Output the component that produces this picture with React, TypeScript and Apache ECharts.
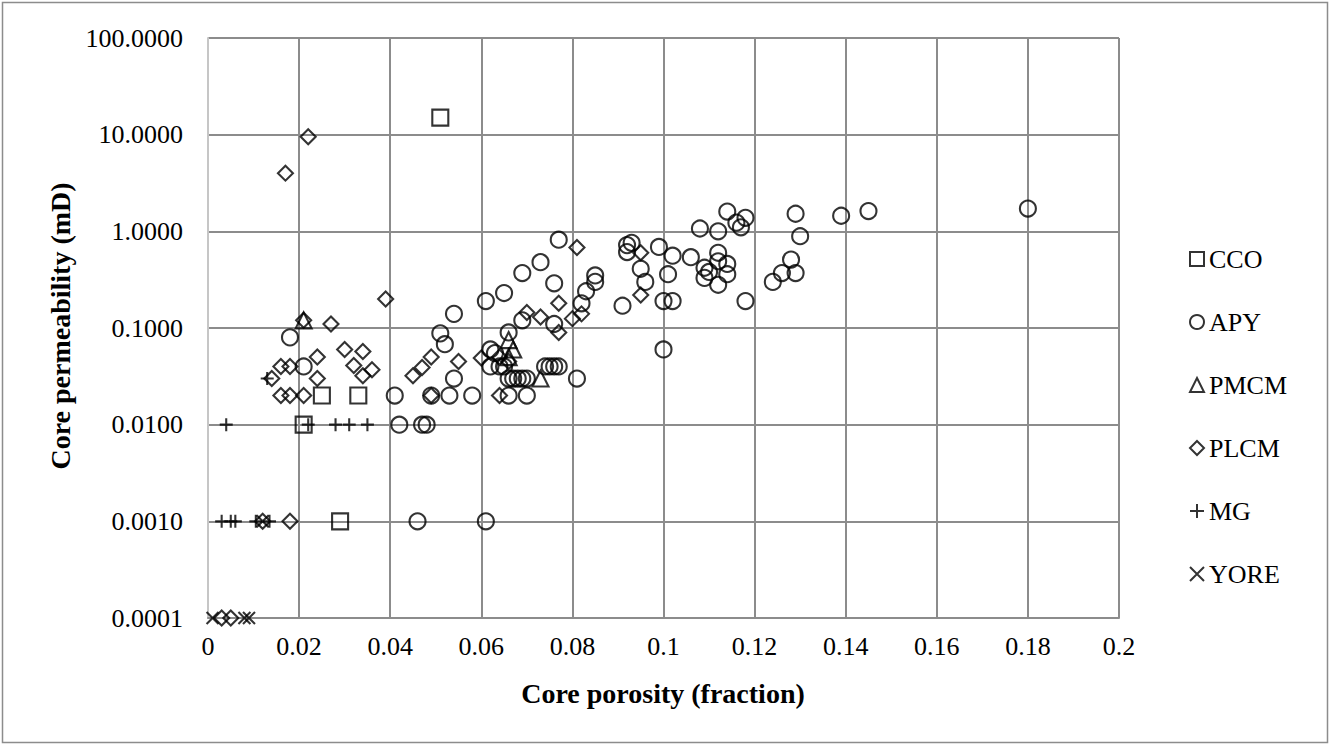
import React, { useEffect, useRef } from 'react';
import * as echarts from 'echarts';

const seriesNames = ['CCO', 'APY', 'PMCM', 'PLCM', 'MG', 'YORE'];

const ccoPorosity = [0.051, 0.025, 0.033, 0.021, 0.029];
const ccoPerm = [15, 0.02, 0.02, 0.01, 0.001];

const apyPorosity = [
  0.018, 0.021, 0.041, 0.042, 0.047, 0.048, 0.046, 0.061, 0.049, 0.053,
  0.058, 0.066, 0.070, 0.054, 0.052, 0.051, 0.054, 0.061, 0.065, 0.069,
  0.073, 0.077, 0.076, 0.069, 0.076, 0.066, 0.062, 0.063, 0.062, 0.064,
  0.065, 0.066, 0.067, 0.068, 0.069, 0.070, 0.074, 0.075, 0.076, 0.077,
  0.081, 0.082, 0.083, 0.085, 0.085, 0.091, 0.092, 0.092, 0.093, 0.095,
  0.096, 0.099, 0.100, 0.102, 0.101, 0.102, 0.100, 0.106, 0.108, 0.109,
  0.110, 0.109, 0.112, 0.112, 0.112, 0.112, 0.114, 0.114, 0.114, 0.116,
  0.117, 0.118, 0.118, 0.124, 0.126, 0.128, 0.129, 0.129, 0.130, 0.139,
  0.145, 0.180,
];
const apyPerm = [
  0.08, 0.04, 0.02, 0.01, 0.01, 0.01, 0.001, 0.001, 0.02, 0.02,
  0.02, 0.02, 0.02, 0.03, 0.068, 0.088, 0.14, 0.19, 0.23, 0.37,
  0.48, 0.82, 0.29, 0.12, 0.11, 0.09, 0.06, 0.055, 0.04, 0.04,
  0.04, 0.03, 0.03, 0.03, 0.03, 0.03, 0.04, 0.04, 0.04, 0.04,
  0.03, 0.18, 0.24, 0.30, 0.35, 0.17, 0.61, 0.72, 0.76, 0.41,
  0.30, 0.69, 0.19, 0.19, 0.36, 0.56, 0.06, 0.54, 1.07, 0.42,
  0.38, 0.33, 1.0, 0.60, 0.49, 0.28, 0.46, 0.36, 1.6, 1.23,
  1.1, 1.38, 0.19, 0.30, 0.37, 0.51, 0.37, 1.52, 0.89, 1.45,
  1.62, 1.72,
];

const pmcmPorosity = [0.021, 0.066, 0.067, 0.066, 0.073];
const pmcmPerm = [0.12, 0.075, 0.06, 0.05, 0.03];

const plcmPorosity = [
  0.017, 0.022, 0.039, 0.021, 0.027, 0.024, 0.030, 0.034, 0.032, 0.036,
  0.034, 0.024, 0.016, 0.018, 0.014, 0.016, 0.018, 0.021, 0.045, 0.047,
  0.049, 0.055, 0.049, 0.060, 0.064, 0.070, 0.073, 0.077, 0.077, 0.080,
  0.082, 0.081, 0.095, 0.095, 0.012, 0.018, 0.003, 0.005, 0.064, 0.066,
];
const plcmPerm = [
  4.0, 9.5, 0.2, 0.12, 0.11, 0.05, 0.06, 0.057, 0.041, 0.037,
  0.032, 0.03, 0.04, 0.04, 0.03, 0.02, 0.02, 0.02, 0.032, 0.039,
  0.05, 0.045, 0.02, 0.049, 0.02, 0.145, 0.13, 0.18, 0.09, 0.125,
  0.14, 0.68, 0.60, 0.22, 0.001, 0.001, 0.0001, 0.0001, 0.05, 0.045,
];

const mgPorosity = [0.004, 0.022, 0.028, 0.031, 0.035, 0.013, 0.003, 0.005, 0.006, 0.0105, 0.0135];
const mgPerm = [0.01, 0.01, 0.01, 0.01, 0.01, 0.03, 0.001, 0.001, 0.001, 0.001, 0.001];

const yorePorosity = [0.001, 0.008, 0.009, 0.012];
const yorePerm = [0.0001, 0.0001, 0.0001, 0.001];

const xTickLabels = ['0', '0.02', '0.04', '0.06', '0.08', '0.1', '0.12', '0.14', '0.16', '0.18', '0.2'];

const PLUS = 'path://M0,6L12,6M6,0L6,12';
const CROSS = 'path://M0,0L12,12M12,0L0,12';

const FONT = '"Liberation Serif", "Times New Roman", serif';

function pairs(xs: number[], ys: number[]) {
  return xs.map((x, i) => [x, ys[i]]);
}

export default function App() {
  const ref = useRef<HTMLDivElement>(null);
  useEffect(() => {
    const chart = echarts.init(ref.current!, null, { renderer: 'svg' });
    const mk = (name: string, symbol: string, size: number, xs: number[], ys: number[]) => ({
      name,
      type: 'scatter',
      symbol,
      symbolSize: size,
      clip: false,
      data: pairs(xs, ys),
      itemStyle: { color: 'rgba(0,0,0,0)', borderColor: '#000', borderWidth: 2.1 },
      emphasis: { disabled: true },
    });
    const splitColors = xTickLabels.map((_, i) => (i === 0 ? '#c6c6c6' : '#8c8c8c'));
    chart.setOption({
      animation: false,
      backgroundColor: '#fff',
      grid: { left: 208, top: 38, width: 911, height: 580, containLabel: false },
      xAxis: {
        type: 'value',
        min: 0,
        max: 0.2,
        interval: 0.02,
        axisLine: { show: true, lineStyle: { color: '#8c8c8c', width: 2 } },
        axisTick: { show: false },
        splitLine: { show: true, lineStyle: { color: splitColors, width: 2 } },
        axisLabel: {
          fontSize: 26,
          fontFamily: FONT,
          color: '#000',
          margin: 15,
          formatter: (v: number) => xTickLabels[Math.round(v / 0.02)] ?? String(v),
        },
      },
      yAxis: {
        type: 'log',
        logBase: 10,
        min: 0.0001,
        max: 100,
        axisLine: { show: true, lineStyle: { color: '#c6c6c6', width: 2 } },
        axisTick: { show: false },
        minorTick: { show: false },
        splitLine: { show: true, lineStyle: { color: '#8c8c8c', width: 2 } },
        axisLabel: {
          fontSize: 26,
          fontFamily: FONT,
          color: '#000',
          margin: 25,
          formatter: (v: number) => v.toFixed(4),
        },
      },
      legend: {
        orient: 'vertical',
        left: 1184,
        top: 239,
        itemWidth: 14,
        itemHeight: 14,
        itemGap: 33,
        selectedMode: false,
        data: seriesNames,
        textStyle: { fontSize: 26, fontFamily: FONT, color: '#000', lineHeight: 30 },
      },
      graphic: [
        {
          type: 'rect',
          silent: true,
          shape: { x: 2.5, y: 2.5, width: 1325, height: 740 },
          style: { fill: 'none', stroke: '#8c8c8c', lineWidth: 1.5 },
        },
        {
          type: 'text',
          silent: true,
          x: 60,
          y: 326,
          rotation: Math.PI / 2,
          style: {
            text: 'Core permeability (mD)',
            fontSize: 28,
            fontWeight: 'bold',
            fontFamily: FONT,
            fill: '#000',
            align: 'center',
            verticalAlign: 'middle',
          },
        },
        {
          type: 'text',
          silent: true,
          x: 663,
          y: 693,
          style: {
            text: 'Core porosity (fraction)',
            fontSize: 28,
            fontWeight: 'bold',
            fontFamily: FONT,
            fill: '#000',
            align: 'center',
            verticalAlign: 'middle',
          },
        },
      ],
      series: [
        mk(seriesNames[0], 'rect', 16, ccoPorosity, ccoPerm),
        mk(seriesNames[1], 'circle', 16, apyPorosity, apyPerm),
        mk(seriesNames[2], 'triangle', 16, pmcmPorosity, pmcmPerm),
        mk(seriesNames[3], 'diamond', 15, plcmPorosity, plcmPerm),
        mk(seriesNames[4], PLUS, 13, mgPorosity, mgPerm),
        mk(seriesNames[5], CROSS, 12, yorePorosity, yorePerm),
      ],
    });
    return () => chart.dispose();
  }, []);
  return (
    <div
      ref={ref}
      style={{ position: 'absolute', left: 0, top: 0, width: 1331, height: 746, background: '#fff' }}
    />
  );
}
